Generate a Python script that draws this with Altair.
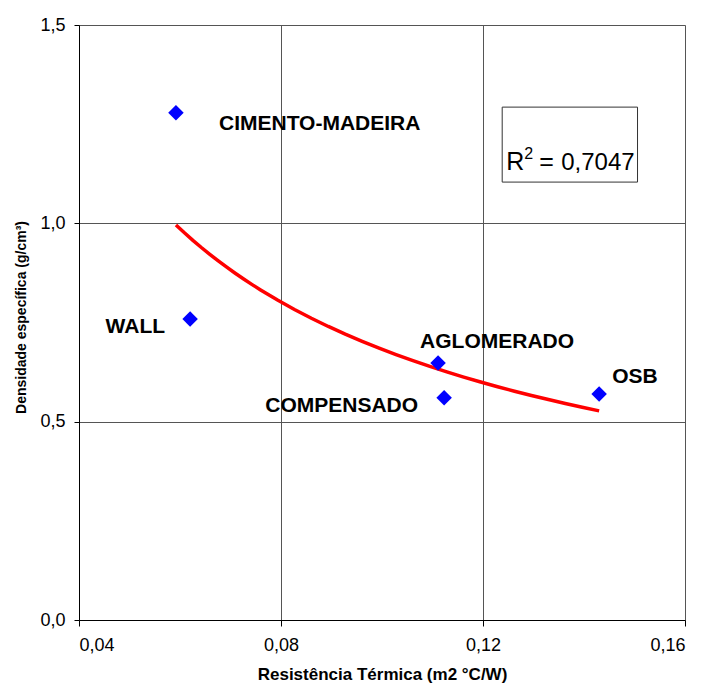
import altair as alt
import pandas as pd

# ---- data ----
materials = ["CIMENTO-MADEIRA", "WALL", "AGLOMERADO", "COMPENSADO", "OSB"]
resistencia = [0.0592, 0.0620, 0.1111, 0.1123, 0.1430]   # m2 °C/W
densidade = [1.279, 0.759, 0.648, 0.560, 0.570]          # g/cm3

x_ticks = [0.04, 0.08, 0.12, 0.16]
y_ticks = [0.0, 0.5, 1.0, 1.5]
r2_value = "0,7047"

df = pd.DataFrame({"material": materials, "x": resistencia, "y": densidade})

xs = alt.Scale(domain=[0.04, 0.16], nice=False, zero=False)
ys = alt.Scale(domain=[0.0, 1.5], nice=False, zero=False)

x_axis = alt.Axis(
    values=x_ticks, title="Resistência Térmica (m2 °C/W)",
    labelExpr="replace(format(datum.value, '.2f'), '.', ',')",
    grid=True, gridColor="#555555", gridWidth=1,
    domainColor="#000000", tickColor="#000000", tickSize=6, labelPadding=10,
    labelFont="Liberation Sans", labelFontSize=18, labelColor="#000000",
    titleFont="Liberation Sans", titleFontSize=17, titleFontWeight="bold",
    titleColor="#000000", titleY=59, titleBaseline="alphabetic",
)
y_axis = alt.Axis(
    values=y_ticks, title="Densidade específica (g/cm³)",
    labelExpr="replace(format(datum.value, '.1f'), '.', ',')",
    grid=True, gridColor="#555555", gridWidth=1,
    domainColor="#000000", tickColor="#000000", tickSize=5, labelPadding=9,
    labelFont="Liberation Sans", labelFontSize=18, labelColor="#000000",
    titleFont="Liberation Sans", titleFontSize=14, titleFontWeight="bold",
    titleColor="#000000", titleX=-58, titleY=292, titleAngle=-90,
    titleAlign="center", titleBaseline="middle",
)

base = alt.Chart(df)

points = base.mark_point(shape="diamond", filled=True, size=240, color="#0000FF", opacity=1).encode(
    x=alt.X("x:Q", scale=xs, axis=x_axis),
    y=alt.Y("y:Q", scale=ys, axis=y_axis),
)

trend = base.transform_regression("x", "y", method="pow").mark_line(
    color="#FF0000", strokeWidth=3.5
).encode(x=alt.X("x:Q", scale=xs), y=alt.Y("y:Q", scale=ys))

label_style = {
    "CIMENTO-MADEIRA": dict(align="left", dx=43, dy=11),
    "WALL": dict(align="right", dx=-25, dy=8),
    "AGLOMERADO": dict(align="left", dx=-18, dy=-21),
    "COMPENSADO": dict(align="right", dx=-26, dy=8),
    "OSB": dict(align="left", dx=13, dy=-17),
}
labels = []
for name, st in label_style.items():
    labels.append(
        base.transform_filter(alt.datum.material == name).mark_text(
            font="Liberation Sans", fontSize=21, fontWeight="bold", color="#000000",
            baseline="middle", **st
        ).encode(x=alt.X("x:Q", scale=xs), y=alt.Y("y:Q", scale=ys), text="material:N")
    )

# R² annotation box (data units)
box_df = pd.DataFrame({"x1": [0.1238], "x2": [0.1506], "y1": [1.104], "y2": [1.293]})
box = alt.Chart(box_df).mark_rect(fill="white", stroke="#333333", strokeWidth=1).encode(
    x=alt.X("x1:Q", scale=xs), x2="x2:Q", y=alt.Y("y1:Q", scale=ys), y2="y2:Q"
)
r2_df = pd.DataFrame({"x": [0.1246], "y": [1.134]})
r2_anchor = alt.Chart(r2_df).encode(x=alt.X("x:Q", scale=xs), y=alt.Y("y:Q", scale=ys))
r2_parts = [
    r2_anchor.mark_text(text="R", font="Liberation Sans", fontSize=25, color="#000000",
                        align="left", baseline="alphabetic"),
    r2_anchor.mark_text(text="2", font="Liberation Sans", fontSize=16, color="#000000",
                        align="left", baseline="alphabetic", dx=18, dy=-11),
    r2_anchor.mark_text(text="=", font="Liberation Sans", fontSize=25, color="#000000",
                        align="left", baseline="alphabetic", dx=33),
    r2_anchor.mark_text(text=r2_value, font="Liberation Sans", fontSize=24, color="#000000",
                        align="left", baseline="alphabetic", dx=55),
]

chart = alt.layer(trend, points, *labels, box, *r2_parts).properties(
    width=606, height=595,
    autosize=alt.AutoSizeParams(type="none"),
    padding={"left": 71, "top": 17, "right": 14, "bottom": 64},
).configure_view(stroke="#808080", strokeWidth=1.5).configure(background="white")

chart.save("out.html", embed_options={"renderer": "svg", "actions": False})
